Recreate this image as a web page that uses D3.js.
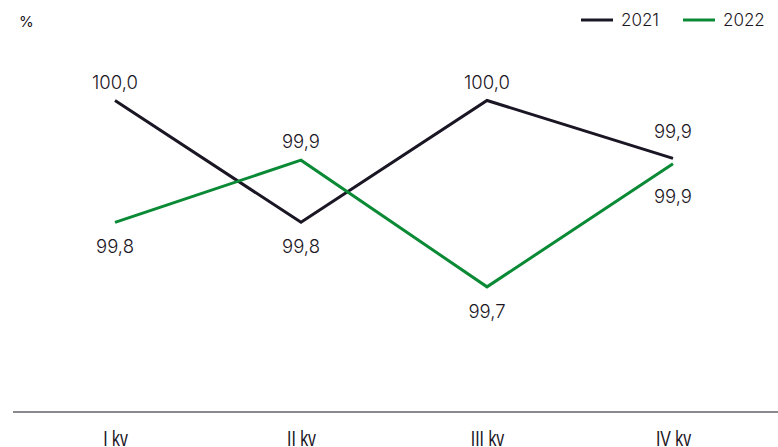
<!DOCTYPE html>
<html><head><meta charset="utf-8">
<script src="https://cdn.jsdelivr.net/npm/d3@7"></script>
<style>body{margin:0;background:#fff}svg{display:block}</style>
</head><body>
<script>
const categories = ["I kv", "II kv", "III kv", "IV kv"];
const series2021 = [100.0, 99.8, 100.0, 99.905];
const series2022 = [99.8, 99.902, 99.694, 99.896];
const labels2021 = ["100,0", "99,8", "100,0", "99,9"];
const labels2022 = ["99,8", "99,9", "99,7", "99,9"];
const seriesNames = ["2021", "2022"];
const colors = ["#1b1624", "#0b8a36"];

const W = 778, H = 447;
const svg = d3.select("body").append("svg").attr("width", W).attr("height", H);
const font = "Inter, 'Open Sans', sans-serif";

const x = d3.scalePoint().domain(categories).range([115, 673]);
const y = d3.scaleLinear().domain([99.5, 100.0]).range([405, 100.5]);

// x axis
const xAxis = svg.append("g").attr("transform", "translate(0,412)")
  .call(d3.axisBottom(x).tickSize(0).tickPadding(0));
xAxis.select(".domain").remove();
svg.append("line").attr("x1", 13).attr("x2", 778).attr("y1", 412).attr("y2", 412)
  .attr("stroke", "#8a8a8e").attr("stroke-width", 2);
xAxis.selectAll("text").attr("dy", null).attr("y", 34)
  .attr("transform", "scale(0.72,1)")
  .attr("font-family", "'Liberation Sans Narrow', 'Liberation Sans', sans-serif")
  .attr("font-size", 22).attr("fill", "#1b1624");

// % label
svg.append("text").attr("x", 19).attr("y", 27).text("%")
  .attr("font-family", font).attr("font-size", 15).attr("fill", "#1b1624");

const data = [series2021, series2022];
const labs = [labels2021, labels2022];
const line = d3.line().x((d, i) => x(categories[i])).y(d => y(d));

data.forEach((s, k) => {
  svg.append("path").datum(s).attr("d", line).attr("fill", "none")
    .attr("stroke", colors[k]).attr("stroke-width", 3).attr("stroke-linejoin", "miter");
});

data.forEach((s, k) => {
  const other = data[1 - k];
  s.forEach((v, i) => {
    const above = v >= other[i];
    const gap = Math.abs(y(v) - y(other[i]));
    const extra = gap < 30 ? 8 : 0;
    svg.append("text").attr("x", x(categories[i]))
      .attr("y", above ? y(v) - 12 - extra : y(v) + 31 + extra)
      .attr("text-anchor", "middle").text(labs[k][i])
      .attr("font-family", font).attr("font-size", 18.5).attr("font-weight", 300)
      .attr("fill", "#1b1624");
  });
});

// legend
const legend = [{x: 581}, {x: 683}];
legend.forEach((l, k) => {
  svg.append("line").attr("x1", l.x).attr("x2", l.x + 32).attr("y1", 20).attr("y2", 20)
    .attr("stroke", colors[k]).attr("stroke-width", 3);
  svg.append("text").attr("x", l.x + 40).attr("y", 26).text(seriesNames[k])
    .attr("font-family", font).attr("font-size", 17).attr("font-weight", 300)
    .attr("fill", "#1b1624");
});
</script>
</body></html>
